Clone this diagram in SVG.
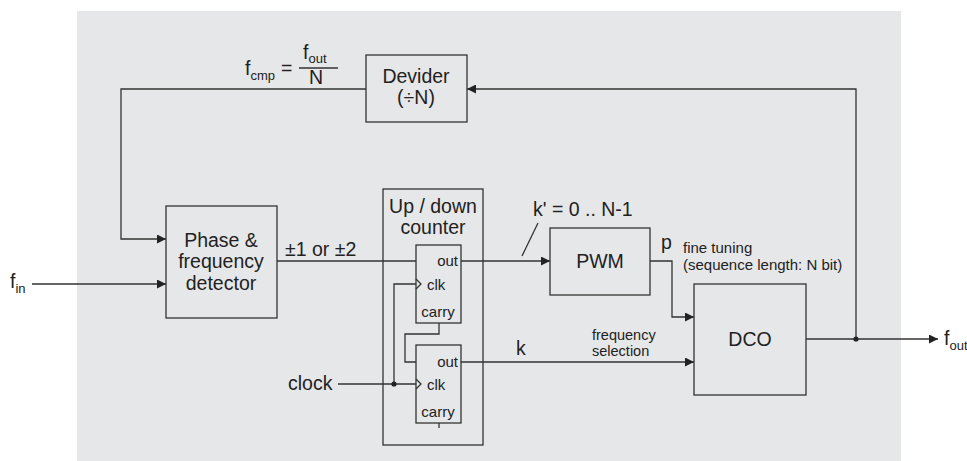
<svg xmlns="http://www.w3.org/2000/svg" width="967" height="461" viewBox="0 0 967 461">
<defs>
<marker id="ar" viewBox="0 0 10 10" refX="10" refY="5" markerWidth="11" markerHeight="9" markerUnits="userSpaceOnUse" orient="auto"><path d="M0,0 L10,5 L0,10 z" fill="#222"/></marker>
<style>
.box{fill:none;stroke:#333;stroke-width:1.3}
.ln{fill:none;stroke:#333;stroke-width:1.3}
text,tspan{font-family:"Liberation Sans",Arial,sans-serif;fill:#222}
text{font-size:19.5px}
.m{text-anchor:middle}
.s{font-size:15px}
.f{font-size:14.5px}
.sub{font-size:13px}
</style>
</defs>
<rect x="77" y="11" width="824" height="450" fill="#e6e7e9"/>
<g id="connectors">
<polyline class="ln" points="366,89 121,89 121,239 166,239" marker-end="url(#ar)"/>
<polyline class="ln" points="856,339 856,89 467,89" marker-end="url(#ar)"/>
<line class="ln" x1="32" y1="284" x2="166" y2="284" marker-end="url(#ar)"/>
<line class="ln" x1="277" y1="261" x2="416" y2="261"/>
<line class="ln" x1="461" y1="261" x2="550" y2="261" marker-end="url(#ar)"/>
<line class="ln" x1="522" y1="256" x2="538" y2="223"/>
<polyline class="ln" points="650,261 672,261 672,317 694,317" marker-end="url(#ar)"/>
<line class="ln" x1="461" y1="362" x2="694" y2="362" marker-end="url(#ar)"/>
<line class="ln" x1="806" y1="339" x2="938" y2="339" marker-end="url(#ar)"/>
<circle cx="856" cy="339" r="2.6" fill="#222"/>
<line class="ln" x1="338" y1="384" x2="416" y2="384"/>
<polyline class="ln" points="394,384 394,284 416,284"/>
<circle cx="394" cy="384" r="2.6" fill="#222"/>
<polyline class="ln" points="439,323 439,334 405,334 405,362 416,362"/>
<line class="ln" x1="439" y1="423" x2="439" y2="428"/>
</g>
<g id="devider">
<rect class="box" x="366" y="55" width="101" height="67"/>
<text class="m" x="416" y="83">Devider</text>
<text class="m" x="416" y="104">(÷N)</text>
</g>
<g id="fcmp-label">
<text x="245" y="75">f<tspan class="sub" dy="5">cmp</tspan></text>
<text x="281" y="75">=</text>
<text x="303" y="59">f<tspan class="sub" dy="4">out</tspan></text>
<line class="ln" x1="299" y1="68" x2="338" y2="68"/>
<text class="m" x="316" y="84">N</text>
</g>
<g id="phase">
<rect class="box" x="166" y="206" width="111" height="112"/>
<text class="m" x="221" y="247">Phase &amp;</text>
<text class="m" x="221" y="268">frequency</text>
<text class="m" x="221" y="290">detector</text>
</g>
<text x="285" y="256">±1 or ±2</text>
<g id="fin"><text x="10" y="288">f<tspan class="sub" dy="5">in</tspan></text></g>
<g id="clock"><text x="288" y="390">clock</text></g>
<g id="counter">
<rect class="box" x="383" y="189" width="100" height="256"/>
<text class="m" x="433" y="213">Up / down</text>
<text class="m" x="433" y="234">counter</text>
</g>
<g id="cnt1">
<rect class="box" x="416" y="245" width="45" height="78"/>
<polyline class="ln" points="416,279 421,284 416,289"/>
<text class="s" x="458" y="266" text-anchor="end">out</text>
<text class="s" x="427" y="290">clk</text>
<text class="s m" x="438" y="317">carry</text>
</g>
<g id="cnt2">
<rect class="box" x="416" y="345" width="45" height="78"/>
<polyline class="ln" points="416,379 421,384 416,389"/>
<text class="s" x="458" y="367" text-anchor="end">out</text>
<text class="s" x="427" y="390">clk</text>
<text class="s m" x="438" y="417">carry</text>
</g>
<text x="533" y="216">k' = 0 .. N-1</text>
<g id="pwm">
<rect class="box" x="550" y="228" width="100" height="67"/>
<text class="m" x="600" y="268">PWM</text>
</g>
<text x="661" y="249">p</text>
<text class="s" x="683" y="253">fine tuning</text>
<text class="s" x="683" y="270">(sequence length: N bit)</text>
<text x="516" y="355">k</text>
<text class="f" x="592" y="340">frequency</text>
<text class="f" x="592" y="356">selection</text>
<g id="dco">
<rect class="box" x="694" y="284" width="112" height="111"/>
<text class="m" x="750" y="346">DCO</text>
</g>
<g id="fout"><text x="944" y="345">f<tspan class="sub" dy="5">out</tspan></text></g>
</svg>
